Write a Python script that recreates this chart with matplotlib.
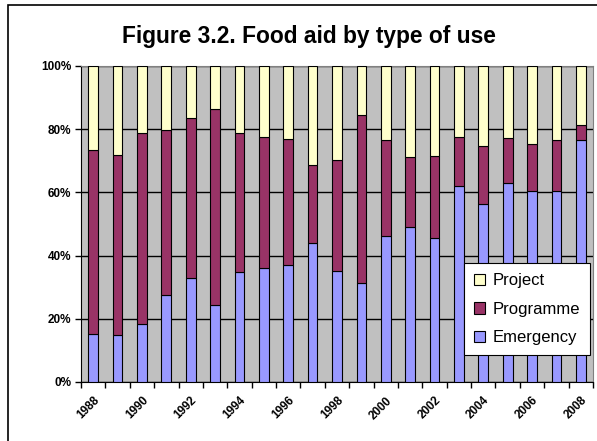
import numpy as np
import matplotlib.pyplot as plt
from matplotlib import font_manager
from matplotlib.patches import Rectangle

# avoid the "Narrow" variant being matched for bold text
reg_path = bold_path = None
for f in font_manager.findSystemFonts():
    name = f.split('/')[-1]
    if name == 'LiberationSans-Bold.ttf':
        bold_path = f
    if name == 'LiberationSans-Regular.ttf':
        reg_path = f
bold = font_manager.FontProperties(fname=bold_path) if bold_path else font_manager.FontProperties(family='Liberation Sans', weight='bold')
reg = font_manager.FontProperties(fname=reg_path) if reg_path else font_manager.FontProperties(family='Liberation Sans')

years = list(range(1988, 2009))
emergency = [15.1, 14.8, 18.4, 27.5, 32.9, 24.4, 34.7, 36.1, 36.9, 44.1, 35.1,
             31.3, 46.1, 49.0, 45.5, 61.9, 56.3, 62.9, 60.4, 60.4, 76.5]
programme_top = [73.5, 71.8, 78.8, 79.8, 83.7, 86.3, 78.8, 77.4, 76.8, 68.6, 70.1,
                 84.4, 76.5, 71.1, 71.6, 77.4, 74.7, 77.1, 75.3, 76.5, 81.2]

emergency = np.array(emergency)
programme = np.array(programme_top) - emergency
project = 100 - np.array(programme_top)

W, H = 597, 441
fig = plt.figure(figsize=(W / 100, H / 100), dpi=100)
ax = fig.add_axes([81 / W, 1 - 382 / H, 512 / W, 316 / H])

# chart border (only left and top edges fall inside the image)
fig.patches.append(Rectangle((8 / W, -0.2), 1.2, 1.2 - 5 / H, transform=fig.transFigure,
                             fill=False, edgecolor='black', linewidth=1.2))

ind = np.arange(len(years))
width = 0.4
kw = dict(width=width, edgecolor='black', linewidth=0.8, zorder=3)
b1 = ax.bar(ind, emergency, color='#9999FF', label='Emergency', **kw)
b2 = ax.bar(ind, programme, bottom=emergency, color='#993366', label='Programme', **kw)
b3 = ax.bar(ind, project, bottom=emergency + programme, color='#FFFFCC', label='Project', **kw)

ax.set_facecolor('#C0C0C0')
ax.set_xlim(-0.5, len(years) - 0.5)
ax.set_ylim(0, 100)
ax.set_yticks(np.arange(0, 101, 20))
ax.set_yticklabels(['{}%'.format(v) for v in range(0, 101, 20)])
for t in ax.get_yticklabels():
    t.set_fontproperties(bold)
    t.set_fontsize(8.5)
ax.yaxis.grid(True, color='black', linewidth=1, zorder=0)
ax.set_axisbelow(True)

ax.set_xticks(ind[::2])
ax.set_xticklabels([str(y) for y in years[::2]], rotation=45, ha='right',
                   rotation_mode='anchor')
for t in ax.get_xticklabels():
    t.set_fontproperties(bold)
    t.set_fontsize(8.5)
ax.tick_params(axis='x', length=0, pad=9)
ax.set_xticks(np.arange(-0.5, len(years)), minor=True)
ax.tick_params(axis='x', which='minor', length=4, width=1, direction='out')
ax.tick_params(axis='y', length=4, width=1, direction='out', pad=3)

for s in ['top', 'right']:
    ax.spines[s].set_color('#808080')
for s in ['left', 'bottom']:
    ax.spines[s].set_color('black')

legprop = reg.copy()
legprop.set_size(12)
leg = ax.legend(handles=[b3, b2, b1], labels=['Project', 'Programme', 'Emergency'],
                loc='lower right', bbox_to_anchor=(0.994, 0.085), prop=legprop,
                fancybox=False, framealpha=1, edgecolor='black', handlelength=0.65,
                handleheight=0.65, handletextpad=0.45, labelspacing=0.8, borderpad=0.6,
                borderaxespad=0)
leg.get_frame().set_linewidth(0.8)
leg.set_zorder(5)

titleprop = bold.copy()
titleprop.set_size(16.4)
fig.text(309 / W, 1 - 43 / H, 'Figure 3.2. Food aid by type of use', ha='center',
         va='baseline', fontproperties=titleprop)

fig.savefig('out.png', dpi=100)
